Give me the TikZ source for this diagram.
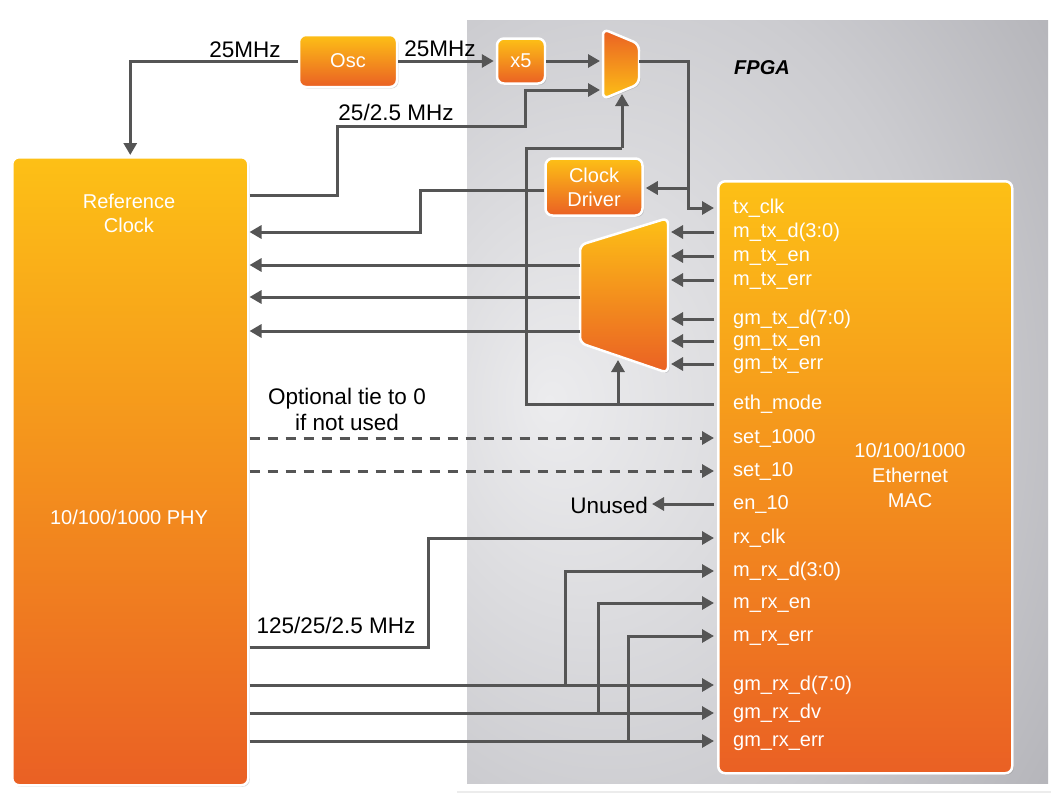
\documentclass[tikz,border=0pt]{standalone}
\usepackage{fontspec}
\setmainfont{Liberation Sans}
\usetikzlibrary{arrows.meta,shadows,calc}
\definecolor{wirec}{RGB}{85,85,85}
\definecolor{oTop}{RGB}{253,192,22}
\definecolor{oBot}{RGB}{234,96,36}
\definecolor{pLight}{RGB}{236,236,238}
\definecolor{pMid}{RGB}{204,204,208}
\definecolor{pDark}{RGB}{160,160,166}
\pgfdeclareradialshading{panelshade}{\pgfpoint{-18bp}{0bp}}{color(0bp)=(pLight); color(28bp)=(pMid); color(55bp)=(pDark); color(80bp)=(pDark)}
\tikzset{
  wire/.style={draw=wirec, line width=3pt},
  arr/.style={wire, -{Triangle[length=12pt,width=13pt]}},
  dwire/.style={arr, dash pattern=on 10pt off 8pt},
  obox/.style={draw=white, line width=2.5pt, rounded corners=7pt, top color=oTop, bottom color=oBot,
    text=white, font=\fontsize{20}{24}\selectfont, align=center, inner sep=0pt,
    drop shadow={shadow xshift=1.5pt, shadow yshift=-1.5pt, opacity=0.3}},
  muxshape/.style={draw=white, line width=2.5pt, rounded corners=6pt,
    drop shadow={shadow xshift=1.5pt, shadow yshift=-1.5pt, opacity=0.3}},
  port/.style={anchor=west, text=white, font=\fontsize{20}{23}\selectfont, inner sep=0pt, text height=14pt, text depth=4pt},
  lbl/.style={font=\fontsize{22.5}{26}\selectfont, text=black, align=center, inner sep=0pt},
}
\begin{document}
\begin{tikzpicture}[x=1pt,y=-1pt]
\useasboundingbox (0,0) rectangle (1051,793);
% FPGA panel
\fill[white, drop shadow={shadow xshift=0pt, shadow yshift=-2pt, opacity=0.15}] (457,9) rectangle (1051,791);
\shade[shading=panelshade] (467,20) rectangle (1048,783);
\node[font=\fontsize{20}{24}\selectfont\bfseries\itshape] (fpga) at (762,68) {FPGA};

% main blocks
\node[obox, minimum width=236pt, minimum height=628pt, anchor=north west] (phy) at (11,156) {};
\node[text=white, font=\fontsize{20}{24}\selectfont, align=center] (refclk) at (129,213) {Reference\\Clock};
\node[text=white, font=\fontsize{20}{24}\selectfont] (phylbl) at (129,517) {10/100/1000 PHY};

\node[obox, minimum width=294pt, minimum height=592pt, anchor=north west] (mac) at (717,180) {};
\node[text=white, font=\fontsize{20}{25}\selectfont, align=center] (maclbl) at (910,475) {10/100/1000\\Ethernet\\MAC};

\node[obox, minimum width=98pt, minimum height=52pt] (osc) at (348,61) {Osc};
\node[obox, minimum width=48pt, minimum height=45pt] (x5) at (521,61) {x5};
\node[obox, minimum width=97pt, minimum height=57pt] (cd) at (594,187) {Clock\\Driver};

% muxes
\path[muxshape, top color=oBot, bottom color=oTop] (603,29) -- (639,44) -- (639,84) -- (603,99) -- cycle;
\coordinate (m1a) at (600,61);
\coordinate (m1b) at (600,90);
\coordinate (m1s) at (622,94);
\coordinate (m1o) at (639,61);
\path[muxshape, top color=oTop, bottom color=oBot] (580,245) -- (668,218) -- (668,373) -- (580,343) -- cycle;
\coordinate (m2s) at (618,360);
\coordinate (m2w) at (580,300);
\coordinate (m2e) at (671,300);

% MAC ports
\foreach \nm/\yy/\tx in {txclk/208/tx\_clk, mtxd/232/m\_tx\_d(3:0), mtxen/256/m\_tx\_en, mtxerr/280/m\_tx\_err,
  gtxd/319/gm\_tx\_d(7:0), gtxen/341/gm\_tx\_en, gtxerr/364/gm\_tx\_err, ethmode/404/eth\_mode,
  set1000/438/set\_1000, set10/471/set\_10, en10/504/en\_10, rxclk/538/rx\_clk,
  mrxd/571/m\_rx\_d(3:0), mrxen/603/m\_rx\_en, mrxerr/636/m\_rx\_err,
  grxd/685/gm\_rx\_d(7:0), grxdv/713/gm\_rx\_dv, grxerr/741/gm\_rx\_err}
  {\node[port] (p-\nm) at (733,\yy) {\tx};
   \coordinate (e-\nm) at (714,\yy);}

% labels
\node[lbl] (l25a) at (245,50) {25MHz};
\node[lbl] (l25b) at (440,49) {25MHz};
\node[lbl] (l252) at (396,112) {25/2.5 MHz};
\node[lbl] (lopt) at (347,409) {Optional tie to 0\\if not used};
\node[lbl, anchor=east] (unused) at (648,505) {Unused};
\node[lbl] (l125) at (336,625) {125/25/2.5 MHz};

% clock wires
\draw[arr, shorten >=1pt] (osc.west) -| (phy.north);
\draw[arr, shorten >=2pt] (osc.east) -- (x5.west);
\draw[arr] (x5.east) -- (m1a);
\draw[arr] (phy.east |- 0,195) -- (337,195) -- (337,126) -- (525,126) -- (525,90) -- (m1b);
\draw[arr] (m1o) -- (688,61) -- (688,208) -- (e-txclk);
\draw[arr, shorten >=2pt] (688,188) -- (cd.east |- 0,188);
\draw[arr] (cd.west |- 0,190) -- (420,190) -- (420,232) -- (phy.east |- 0,232);

% eth_mode
\draw[wire] (e-ethmode) -- (526,404) -- (526,148) -- (622,148);
\draw[arr] (622,148) -- (m1s);
\draw[arr] (618,404) -- (m2s);

% tx data into mux2
\foreach \nm in {mtxd,mtxen,mtxerr,gtxd,gtxen,gtxerr}
  \draw[arr] (e-\nm) -- (e-\nm -| m2e);
\foreach \yy in {265,297,331}
  \draw[arr] (m2w |- 0,\yy) -- (phy.east |- 0,\yy);

% optional dashed
\draw[dwire] (phy.east |- e-set1000) -- (e-set1000);
\draw[dwire] (phy.east |- e-set10) -- (e-set10);
\draw[arr] (e-en10) -- ([xshift=4pt]unused.east |- e-en10);

% rx
\draw[arr] (phy.east |- 0,647) -- (428,647) -- (428,538) -- (e-rxclk);
\draw[arr] (phy.east |- e-grxd) -- (e-grxd);
\draw[arr] (phy.east |- e-grxdv) -- (e-grxdv);
\draw[arr] (phy.east |- e-grxerr) -- (e-grxerr);
\draw[arr] (565,685) -- (565,571) -- (e-mrxd);
\draw[arr] (598,713) -- (598,603) -- (e-mrxen);
\draw[arr] (628,741) -- (628,636) -- (e-mrxerr);
\end{tikzpicture}
\end{document}
